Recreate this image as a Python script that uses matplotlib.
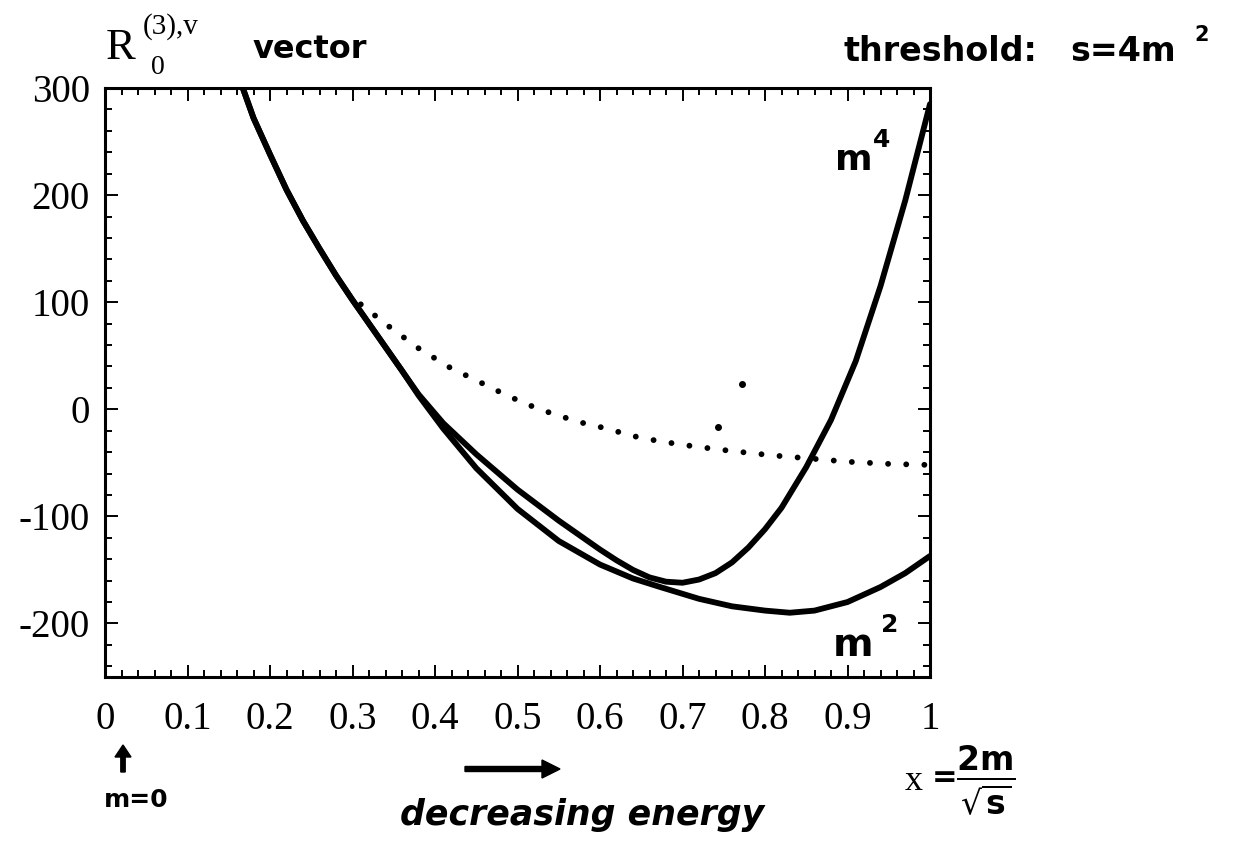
import matplotlib
matplotlib.use("Agg")
import matplotlib.pyplot as plt
from matplotlib.ticker import MultipleLocator

# ---- data ----
m4_x = [0.167, 0.18, 0.20, 0.22, 0.24, 0.26, 0.28, 0.30, 0.32, 0.34, 0.36, 0.38, 0.41,
        0.45, 0.50, 0.55, 0.60, 0.62, 0.64, 0.66, 0.68, 0.70, 0.72, 0.74, 0.76, 0.78,
        0.80, 0.82, 0.85, 0.88, 0.91, 0.94, 0.97, 1.0]
m4_y = [300, 272, 238, 205, 176, 150, 125, 102, 80, 58, 36, 14, -13,
        -42, -75, -104, -131, -141, -150, -157, -161, -162, -159, -153, -143, -129,
        -112, -92, -54, -10, 45, 115, 195, 285]

m2_x = [0.167, 0.18, 0.20, 0.22, 0.24, 0.26, 0.28, 0.30, 0.32, 0.34, 0.36, 0.38, 0.41,
        0.45, 0.50, 0.55, 0.60, 0.64, 0.673, 0.72, 0.76, 0.80, 0.83, 0.86, 0.90, 0.94,
        0.97, 1.0]
m2_y = [300, 272, 238, 205, 176, 150, 125, 102, 80, 58, 36, 13, -18,
        -55, -93, -123, -145, -158, -166, -177, -184, -188, -190, -188, -180, -166,
        -153, -137]

dot_x = [0.31, 0.343, 0.38, 0.418, 0.45, 0.479, 0.51, 0.542, 0.575, 0.608, 0.64,
         0.673, 0.717, 0.76, 0.808, 0.855, 0.90, 0.95, 1.0]
dot_y = [98, 78, 57, 39, 27, 16, 5, -4, -12, -18, -25,
         -30, -35, -39, -43, -46, -49, -51, -52]

stray_x = [0.772, 0.743]
stray_y = [24, -17]

xticks = [0, 0.1, 0.2, 0.3, 0.4, 0.5, 0.6, 0.7, 0.8, 0.9, 1]
xticklabels = ["0", "0.1", "0.2", "0.3", "0.4", "0.5", "0.6", "0.7", "0.8", "0.9", "1"]
yticks = [-200, -100, 0, 100, 200, 300]
yticklabels = ["-200", "-100", "0", "100", "200", "300"]

W, H = 1237, 848
fig = plt.figure(figsize=(W / 100, H / 100), dpi=100)
ax = fig.add_axes([105 / W, 1 - 677 / H, (930 - 105) / W, (677 - 88) / H])

ax.plot(m2_x, m2_y, color="black", lw=4.2, solid_capstyle="round", solid_joinstyle="round")
ax.plot(m4_x, m4_y, color="black", lw=4.2, solid_capstyle="round", solid_joinstyle="round")
ax.plot(dot_x, dot_y, color="black", lw=4.2, linestyle=(0, (0.01, 3.1)),
        dash_capstyle="round")
ax.plot(stray_x, stray_y, linestyle="none", marker="o", markersize=4, color="black")

ax.set_xlim(0, 1)
ax.set_ylim(-250, 300)

serif = "Liberation Serif"
ax.set_xticks(xticks)
ax.set_xticklabels(xticklabels, fontfamily=serif, fontsize=28)
ax.set_yticks(yticks)
ax.set_yticklabels(yticklabels, fontfamily=serif, fontsize=28)
ax.xaxis.set_minor_locator(MultipleLocator(0.02))
ax.yaxis.set_minor_locator(MultipleLocator(20))
ax.tick_params(which="both", direction="in", top=True, right=True, width=1.4, colors="black")
ax.tick_params(which="major", length=9)
ax.tick_params(which="minor", length=5)
ax.tick_params(axis="x", which="major", pad=17)
ax.tick_params(axis="y", which="major", pad=11)
for s in ax.spines.values():
    s.set_linewidth(2.2)


def ftext(px, py, s, **kw):
    fig.text(px / W, 1 - py / H, s, **kw)


hand = dict(fontfamily="DejaVu Sans", fontweight="bold", color="black")

# y-axis label R_0^{(3),v}
ftext(106, 48, "R", fontfamily=serif, fontsize=32, ha="left", va="center")
ftext(143, 27, "(3),v", fontfamily=serif, fontsize=21, ha="left", va="center")
ftext(151, 68, "0", fontfamily=serif, fontsize=20, ha="left", va="center")

# handwritten annotations
ftext(253, 58, "vector", fontsize=23, ha="left", va="baseline", **hand)
ftext(843, 61, "threshold:", fontsize=24, ha="left", va="baseline", **hand)
ftext(1070, 61, "s=4m", fontsize=24, ha="left", va="baseline", **hand)
ftext(1194, 35, "2", fontsize=15, ha="left", va="center", **hand)
ftext(835, 160, "m", fontsize=26, ha="left", va="center", **hand)
ftext(873, 140, "4", fontsize=18, ha="left", va="center", **hand)
ftext(833, 645, "m", fontsize=28, ha="left", va="center", **hand)
ftext(881, 625, "2", fontsize=18, ha="left", va="center", **hand)

ftext(104, 800, "m=0", fontsize=18, ha="left", va="center", **hand)
ftext(400, 815, "decreasing energy", fontsize=25, ha="left", va="center",
      fontstyle="italic", **hand)

fig.patches.append(matplotlib.patches.FancyArrow(
    123 / W, 1 - 772 / H, 0, 27 / H, width=3 / H, head_width=16 / W, head_length=12 / H,
    length_includes_head=True, color="black", transform=fig.transFigure))
fig.patches.append(matplotlib.patches.FancyArrow(
    465 / W, 1 - 769 / H, 95 / W, 0, width=5 / H, head_width=18 / H, head_length=18 / W,
    length_includes_head=True, color="black", transform=fig.transFigure))

ftext(905, 782, "x", fontfamily=serif, fontsize=26, ha="left", va="center")
ftext(932, 778, "=", fontsize=22, ha="left", va="center", **hand)
ftext(956, 781, r"$\mathbf{\frac{2m}{\sqrt{s}}}$", fontsize=34, ha="left", va="center")

fig.savefig("out.png", dpi=100, facecolor="white")
